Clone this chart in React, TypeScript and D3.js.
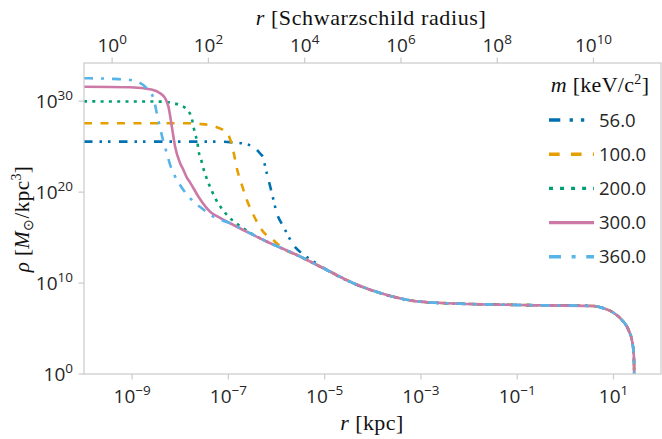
import React from 'react';
import * as d3 from 'd3';

// ---------- data (log10 r [kpc], log10 rho [Msun/kpc^3]) ----------
const masses = ['56.0', '100.0', '200.0', '300.0', '360.0'];

const haloTail: [number, number][] = [
  [-6.964, 16.58], [-6.272, 14.74], [-5.578, 13.09], [-4.955, 11.44], [-4.402, 9.98],
  [-3.708, 8.69], [-3.016, 7.95], [-1.977, 7.7], [-0.938, 7.59], [0.585, 7.48],
  [0.792, 7.23], [1.0, 6.74], [1.174, 5.94], [1.312, 4.84], [1.395, 3.38],
  [1.424, 1.9], [1.432, -1.5],
];

const core56: [number, number][] = [
  [-10, 25.56], [-7.172, 25.56], [-6.86, 25.45], [-6.721, 25.38], [-6.55, 25.15],
  [-6.444, 24.83], [-6.35, 24.3], [-6.272, 23.73], [-6.237, 22.81], [-6.18, 21.64],
  [-6.097, 19.88], [-5.994, 17.68], [-5.856, 16.2], [-5.786, 15.48], [-5.649, 14.19],
  [-5.474, 13.28], [-5.3, 12.62], [-5.059, 11.8],
];
const core100: [number, number][] = [
  [-10, 27.58], [-7.795, 27.58], [-7.587, 27.5], [-7.4, 27.38], [-7.24, 27.14],
  [-7.1, 26.8], [-7.0, 26.29], [-6.895, 24.46], [-6.825, 22.63], [-6.721, 20.79],
  [-6.617, 19.14], [-6.48, 17.49], [-6.305, 15.84], [-6.064, 14.7], [-5.821, 13.66],
];
const core200: [number, number][] = [
  [-10, 29.98], [-8.418, 29.96], [-8.142, 29.78], [-7.967, 29.48], [-7.83, 28.9],
  [-7.76, 28.09], [-7.726, 27.21], [-7.691, 26.37], [-7.643, 25.45], [-7.622, 24.57],
  [-7.573, 23.73], [-7.531, 22.81], [-7.483, 22.0], [-7.427, 21.15], [-7.359, 20.32],
  [-7.29, 19.5], [-7.207, 18.7], [-7.103, 17.96], [-7.0, 17.3], [-6.86, 16.69],
  [-6.721, 16.14], [-6.584, 15.65], [-6.444, 15.21],
];
const core300: [number, number][] = [
  [-10, 31.6], [-9.04, 31.54], [-8.6, 31.3], [-8.418, 30.88], [-8.314, 30.33],
  [-8.246, 29.41], [-8.175, 27.2], [-8.107, 25.0], [-8.003, 23.18], [-7.934, 22.44],
  [-7.863, 21.6], [-7.795, 21.05], [-7.622, 19.5], [-7.379, 17.85], [-7.2, 17.25],
];
const core360: [number, number][] = [
  [-10, 32.53], [-9.457, 32.47], [-9.04, 32.34], [-8.85, 32.05], [-8.695, 31.43],
  [-8.557, 30.33], [-8.487, 28.68], [-8.418, 27.03], [-8.35, 25.56], [-8.279, 24.28],
  [-8.21, 22.99], [-8.107, 21.71], [-7.934, 20.24], [-7.76, 19.14], [-7.552, 18.23],
  [-7.311, 17.3],
];
const cores = [core56, core100, core200, core300, core360];

const xTickExps = [-9, -7, -5, -3, -1, 1];
const topTickExps = [0, 2, 4, 6, 8, 10];
const yTickExps = [0, 10, 20, 30];
const R_SCHWARZSCHILD_KPC = 3.84e-10;

// ---------- styles ----------
const colors = ['#0072B2', '#E69F00', '#009E73', '#CC79A7', '#56B4E9'];
const dashes = ['8.5,7,2.5,6,2.5,8.5', '8,8.5', '3,5.3', '', '9,8,3,8'];

const W = 662, H = 439;
const L = 84, R = 661, T = 63, B = 374;
const SANS = 'Open Sans';
const SERIF = 'Liberation Serif';
const TXT = '#262626';
const GRID = '#cccccc';

function scaleDash(d: string, k: number) {
  return d ? d.split(',').map(v => (parseFloat(v) * k).toFixed(2)).join(',') : '';
}

export default function App() {
  const x = d3.scaleLog().domain([1e-10, 97]).range([L, R]);
  const xTop = d3.scaleLog().domain([1e-10 / R_SCHWARZSCHILD_KPC, 97 / R_SCHWARZSCHILD_KPC]).range([L, R]);
  const y = d3.scaleLog().domain([1, 1.6e34]).range([B, T]);

  const line = d3.line<[number, number]>()
    .x(d => x(Math.pow(10, d[0])))
    .y(d => y(Math.pow(10, d[1])))
    .curve(d3.curveMonotoneX);

  const seriesPts = cores.map(c => {
    const last = c[c.length - 1][0];
    return [...c, ...haloTail.filter(p => p[0] > last + 0.02)];
  });

  const supText = (base: string, exp: string, xx: number, yy: number, anchor: string, key: string) => (
    <text key={key} x={xx} y={yy} textAnchor={anchor} fontFamily={SANS} fontSize={19} fill={TXT}>
      {base}
      <tspan dy={-8.5} fontSize={13.5}>{exp}</tspan>
    </text>
  );

  const legY0 = 120, legDy = 34.2;

  return (
    <svg width={W} height={H} style={{ position: 'absolute', left: 0, top: 0, background: '#fff' }}>
      <defs>
        <clipPath id="plotclip">
          <rect x={L} y={T} width={R - L} height={B - T} />
        </clipPath>
      </defs>
      <rect x={0} y={0} width={W} height={H} fill="#fff" />

      {/* curves */}
      <g clipPath="url(#plotclip)">
        {seriesPts.map((pts, i) => (
          <path key={i} d={line(pts) || ''} fill="none" stroke={colors[i]} strokeWidth={2.6}
            strokeDasharray={dashes[i] || undefined} strokeLinejoin="round" />
        ))}
      </g>

      {/* frame */}
      <rect x={L} y={T} width={R - L} height={B - T} fill="none" stroke={GRID} strokeWidth={1.25} />

      {/* bottom ticks */}
      {xTickExps.map(e => {
        const px = x(Math.pow(10, e));
        return (
          <g key={'xb' + e}>
            <line x1={px} x2={px} y1={B} y2={B + 5.5} stroke={GRID} strokeWidth={1.25} />
            {supText('10', e < 0 ? '\u2212' + Math.abs(e) : String(e), px, 403, 'middle', 'xbt' + e)}
          </g>
        );
      })}

      {/* top ticks */}
      {topTickExps.map(e => {
        const px = xTop(Math.pow(10, e));
        return (
          <g key={'xt' + e}>
            <line x1={px} x2={px} y1={T} y2={T - 5.5} stroke={GRID} strokeWidth={1.25} />
            {supText('10', String(e), px, 52, 'middle', 'xtt' + e)}
          </g>
        );
      })}

      {/* y ticks */}
      {yTickExps.map(e => {
        const py = y(Math.pow(10, e));
        return (
          <g key={'y' + e}>
            <line x1={L} x2={L - 5.5} y1={py} y2={py} stroke={GRID} strokeWidth={1.25} />
            {supText('10', String(e), 73, py + 7, 'end', 'yt' + e)}
          </g>
        );
      })}

      {/* axis labels */}
      <text x={371} y={25} textAnchor="middle" fontFamily={SERIF} fontSize={22} letterSpacing={0.6} fill="#111">
        <tspan fontStyle="italic">r</tspan> [Schwarzschild radius]
      </text>
      <text x={372} y={430} textAnchor="middle" fontFamily={SERIF} fontSize={22} letterSpacing={0.4} fill="#111">
        <tspan fontStyle="italic">r</tspan> [kpc]
      </text>
      <text transform="translate(29,219) rotate(-90)" textAnchor="middle" fontFamily={SERIF} fontSize={21} letterSpacing={0.4} fill="#111">
        <tspan fontStyle="italic">ρ</tspan> [<tspan fontStyle="italic">M</tspan>
        <tspan dy={4} fontSize={14}>⊙</tspan>
        <tspan dy={-4}>/kpc</tspan>
        <tspan dy={-8} fontSize={14}>3</tspan>
        <tspan dy={8}>]</tspan>
      </text>

      {/* legend */}
      <text x={600} y={92} textAnchor="middle" fontFamily={SERIF} fontSize={22} letterSpacing={0.3} fill="#111">
        <tspan fontStyle="italic">m</tspan> [keV/c<tspan dy={-8} fontSize={14}>2</tspan><tspan dy={8}>]</tspan>
      </text>
      {masses.map((m, i) => {
        const ly = legY0 + i * legDy;
        return (
          <g key={'leg' + m}>
            <line x1={549} x2={594} y1={ly} y2={ly} stroke={colors[i]} strokeWidth={3.4}
              strokeDasharray={scaleDash(dashes[i], 1.33) || undefined} />
            <text x={599} y={ly + 6.5} fontFamily={SANS} fontSize={18.5} fill={TXT}>{m}</text>
          </g>
        );
      })}
    </svg>
  );
}
